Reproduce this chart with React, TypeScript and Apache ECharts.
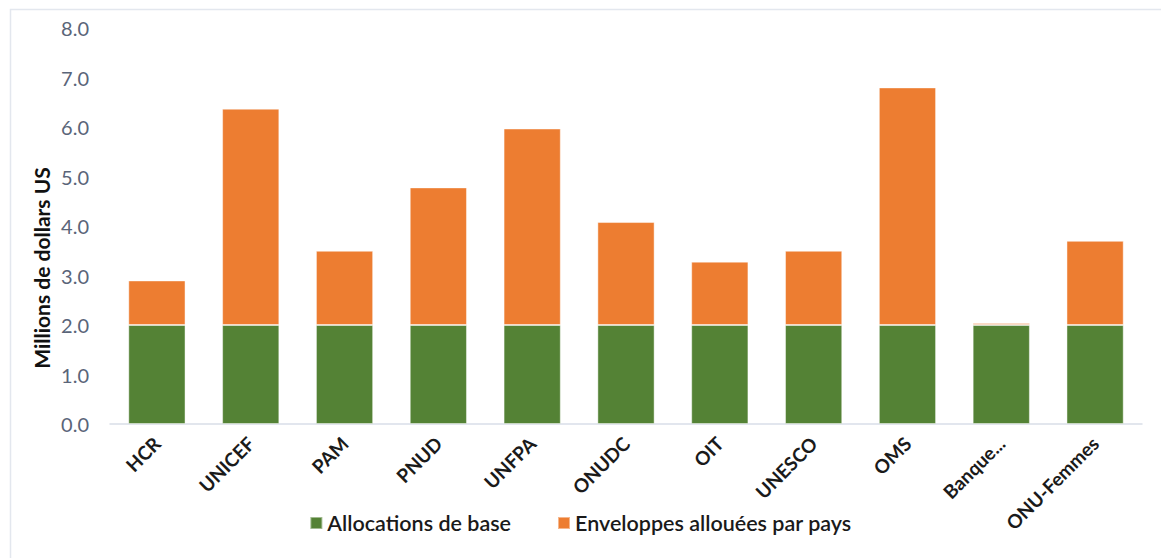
import React, { useEffect, useRef } from "react";
import * as echarts from "echarts";

const categories = ["HCR", "UNICEF", "PAM", "PNUD", "UNFPA", "ONUDC", "OIT", "UNESCO", "OMS", "Banque...", "ONU-Femmes"];
const baseAllocations = [2.0, 2.0, 2.0, 2.0, 2.0, 2.0, 2.0, 2.0, 2.0, 2.0, 2.0];
const countryEnvelopes = [0.9, 4.37, 1.5, 2.78, 3.97, 2.08, 1.28, 1.5, 4.8, 0.04, 1.7];
const seriesNames = ["Allocations de base", "Enveloppes allouées par pays"];
const yAxisTitle = "Millions de dollars US";

const FONT = "Lato, 'Open Sans', sans-serif";

export default function App() {
  const ref = useRef<HTMLDivElement>(null);
  useEffect(() => {
    if (!ref.current) return;
    const chart = echarts.init(ref.current, null, { renderer: "svg" });
    chart.setOption({
      animation: false,
      backgroundColor: "#ffffff",
      textStyle: { fontFamily: FONT },
      grid: { left: 110, right: 19, top: 28, bottom: 134 },
      legend: {
        bottom: 19,
        left: "center",
        itemWidth: 12,
        itemHeight: 12,
        itemGap: 46,
        icon: "rect",
        textStyle: { fontSize: 21.5, fontWeight: 600, color: "#1a1a1a", fontFamily: FONT },
        data: seriesNames,
      },
      xAxis: {
        type: "category",
        data: categories,
        axisLine: { lineStyle: { color: "#d9dee8", width: 1.5 } },
        axisTick: { show: false },
        axisLabel: {
          rotate: 45,
          margin: 16,
          interval: 0,
          fontSize: 19,
          fontWeight: "bold",
          color: "#1a1a1a",
          fontFamily: FONT,
        },
      },
      yAxis: {
        type: "value",
        min: 0,
        max: 8,
        interval: 1,
        splitLine: { show: false },
        axisLine: { show: false },
        axisTick: { show: false },
        axisLabel: {
          margin: 21,
          fontSize: 20,
          color: "#5a6579",
          fontFamily: FONT,
          formatter: (v: number) => v.toFixed(1),
        },
      },
      graphic: [
        {
          type: "rect",
          shape: { x: 10.5, y: 9.5, width: 1300, height: 700 },
          style: { fill: "none", stroke: "#e3e7ee", lineWidth: 1.5 },
          silent: true,
        },
        {
          type: "text",
          x: 41,
          y: 268,
          rotation: Math.PI / 2,
          style: {
            text: yAxisTitle,
            fontSize: 21,
            fontWeight: "bold",
            fill: "#111111",
            fontFamily: FONT,
            align: "center",
            verticalAlign: "middle",
          },
        },
      ],
      series: [
        {
          name: seriesNames[0],
          type: "bar",
          stack: "total",
          data: baseAllocations,
          barCategoryGap: "39%",
          itemStyle: { color: "#548235", borderColor: "rgba(255,255,255,0.45)", borderWidth: 1 },
        },
        {
          name: seriesNames[1],
          type: "bar",
          stack: "total",
          data: countryEnvelopes,
          barCategoryGap: "39%",
          itemStyle: { color: "#ED7D31", borderColor: "rgba(255,255,255,0.45)", borderWidth: 1 },
        },
      ],
    });
    return () => chart.dispose();
  }, []);
  return <div ref={ref} style={{ width: 1161, height: 558, position: "absolute", left: 0, top: 0 }} />;
}
